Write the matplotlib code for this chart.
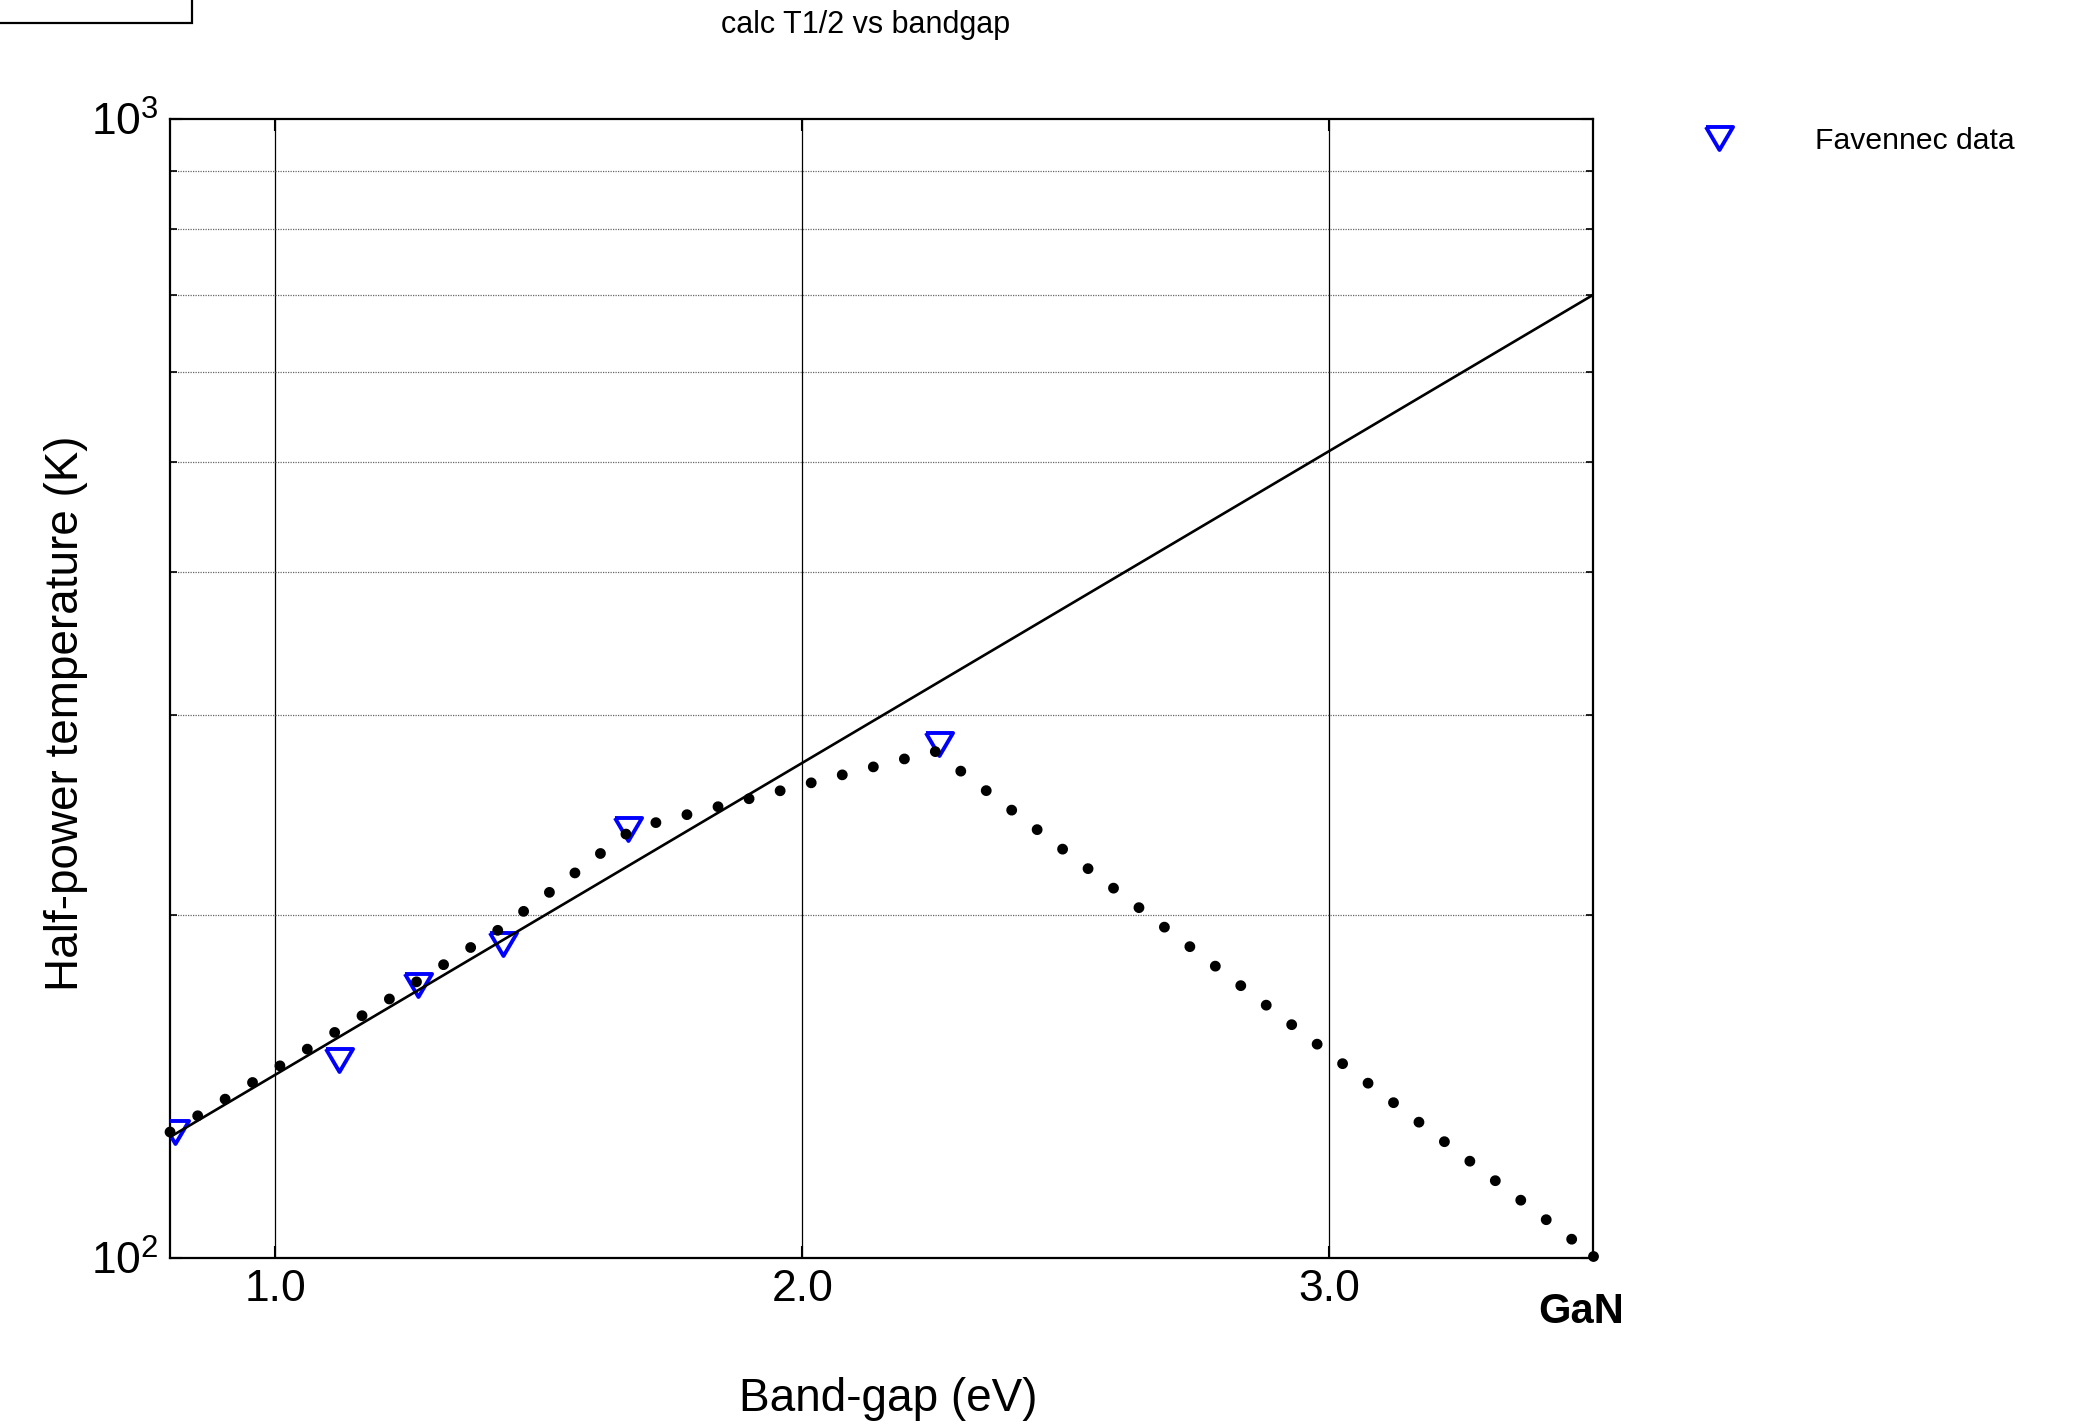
import matplotlib
matplotlib.use("Agg")
import matplotlib.pyplot as plt
from matplotlib.patches import Rectangle
from matplotlib.ticker import FixedLocator, NullFormatter

plt.rcParams['font.family'] = ['Liberation Sans', 'DejaVu Sans']
plt.rcParams['mathtext.default'] = 'regular'

# fitted line (straight on log axis)
gap_fit = [0.80, 3.50]
t_fit = [127.7, 700.7]

# calculated T1/2 curve (dotted)
gap_calc = [0.80, 0.856, 1.011, 1.218, 1.423, 1.521, 1.665, 1.720, 2.251, 3.50]
t_calc = [129.0, 133.6, 147.7, 169.0, 194.1, 209.6, 235.6, 241.0, 278.6, 100.5]

# Favennec data
gap_fav = [0.810, 1.120, 1.271, 1.432, 1.669, 2.259]
t_fav = [129.0, 149.2, 173.7, 188.5, 238.1, 282.4]

W, H = 2073, 1427
fig = plt.figure(figsize=(W / 100, H / 100), dpi=100)
ax = fig.add_axes([170 / W, 1 - 1258 / H, 1423 / W, 1139 / H])

# slightly flattened down-triangle, like the original symbol
tri = [(-1, 0.85), (1, 0.85), (0, -0.85), (-1, 0.85)]
ax.plot(gap_fav, t_fav, linestyle='none', marker=tri, markersize=19.5,
        markerfacecolor='none', markeredgecolor='blue', markeredgewidth=2.8,
        label='Favennec data', zorder=3)
ax.plot(gap_fit, t_fit, color='black', lw=1.9, zorder=4)
# dotted curve, with the end dot drawn like the original
ax.plot(gap_calc, t_calc, color='black', lw=7.8, linestyle=(0, (0.01, 2.95)),
        dash_capstyle='round', marker='o', markevery=[-1], markersize=7.8,
        markeredgewidth=0, clip_on=False, zorder=5)

ax.set_yscale('log')
ax.set_xlim(0.8, 3.5)
ax.set_ylim(100, 1000)
ax.set_xticks([1.0, 2.0, 3.0])
ax.set_xticklabels(['1.0', '2.0', '3.0'])
ax.yaxis.set_minor_locator(FixedLocator([200, 300, 400, 500, 600, 700, 800, 900]))
ax.yaxis.set_minor_formatter(NullFormatter())

ax.grid(True, axis='x', which='major', color='black', lw=0.9, ls='-')
ax.grid(True, axis='y', which='minor', color='#666666', lw=0.9, ls=(0, (1, 1)))
ax.grid(False, axis='y', which='major')

ax.tick_params(which='both', direction='in', top=True, right=True)
ax.tick_params(which='major', length=8.6, width=1.5, labelsize=32, pad=8)
ax.tick_params(which='minor', length=5, width=1.2)
for s in ax.spines.values():
    s.set_linewidth(1.6)

ax.set_xlabel('Band-gap (eV)', fontsize=33, va='center')
ax.xaxis.set_label_coords(0.5046, -0.1238)
ax.set_ylabel('Half-power temperature (K)', fontsize=33, va='center')
ax.yaxis.set_label_coords(-0.0731, 0.4785)

ax.text(3.478, -0.0474, 'GaN', transform=ax.get_xaxis_transform(),
        fontsize=30, fontweight='bold', ha='center', va='center')

fig.text(866 / W, 1 - 25 / H, 'calc T1/2 vs bandgap', fontsize=22,
         ha='center', va='center')

ax.legend(loc='center left', bbox_to_anchor=(1689 / W, 1 - 141 / H),
          bbox_transform=fig.transFigure, frameon=False, fontsize=21.7,
          handlelength=2, handletextpad=2.19, borderpad=0, borderaxespad=0)

fig.add_artist(Rectangle((-0.01, 1 - 23 / H), 192 / W + 0.01, 0.05,
                         transform=fig.transFigure, fill=False,
                         edgecolor='black', lw=1.6, clip_on=False))

fig.savefig('out.png', dpi=100)
